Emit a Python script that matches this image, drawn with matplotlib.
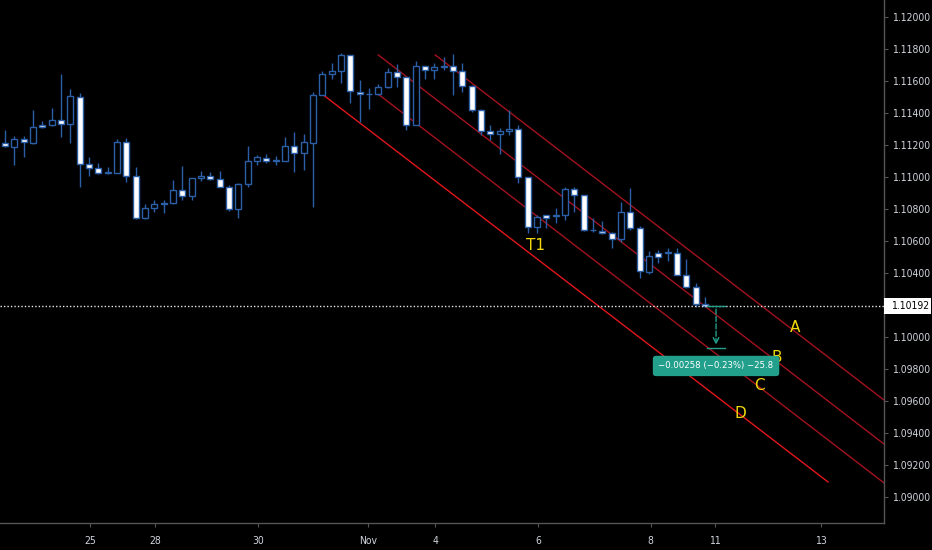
import matplotlib
matplotlib.use('Agg')
import matplotlib.pyplot as plt
from matplotlib import font_manager
from matplotlib.patches import Rectangle
import numpy as np

# ---- data (EURUSD 4h) ----
opens = [1.11214, 1.11189, 1.11235, 1.11210, 1.11327, 1.11323, 1.11356, 1.11331, 1.11502, 1.11079,
         1.11054, 1.11023, 1.11027, 1.11217, 1.11006, 1.10745, 1.10804, 1.10831, 1.10835, 1.10919,
         1.10881, 1.10992, 1.11006, 1.10985, 1.10939, 1.10798, 1.10954, 1.11102, 1.11120, 1.11102,
         1.11100, 1.11195, 1.11148, 1.11215, 1.11512, 1.11642, 1.11664, 1.11762, 1.11533, 1.11519,
         1.11519, 1.11560, 1.11654, 1.11623, 1.11325, 1.11694, 1.11669, 1.11689, 1.11694, 1.11664,
         1.11570, 1.11419, 1.11289, 1.11266, 1.11289, 1.11300, 1.10998, 1.10685, 1.10760, 1.10756,
         1.10760, 1.10923, 1.10887, 1.10669, 1.10664, 1.10648, 1.10612, 1.10779, 1.10679, 1.10408,
         1.10523, 1.10523, 1.10527, 1.10387, 1.10310, 1.10206]
highs = [1.11294, 1.11256, 1.11256, 1.11419, 1.11350, 1.11429, 1.11642, 1.11548, 1.11527, 1.11123,
         1.11085, 1.11060, 1.11235, 1.11242, 1.11060, 1.10831, 1.10856, 1.10856, 1.10981, 1.11070,
         1.10994, 1.11039, 1.11029, 1.11035, 1.10950, 1.10964, 1.11194, 1.11137, 1.11144, 1.11131,
         1.11248, 1.11283, 1.11269, 1.11533, 1.11664, 1.11714, 1.11773, 1.11765, 1.11606, 1.11554,
         1.11579, 1.11679, 1.11706, 1.11625, 1.11727, 1.11696, 1.11710, 1.11752, 1.11769, 1.11714,
         1.11572, 1.11423, 1.11325, 1.11306, 1.11419, 1.11325, 1.11000, 1.10762, 1.10762, 1.10804,
         1.10939, 1.10936, 1.10890, 1.10742, 1.10727, 1.10658, 1.10845, 1.10929, 1.10695, 1.10539,
         1.10544, 1.10554, 1.10554, 1.10485, 1.10335, 1.10252]
lows = [1.11187, 1.11075, 1.11127, 1.11204, 1.11304, 1.11320, 1.11252, 1.11214, 1.10939, 1.11006,
        1.11020, 1.11020, 1.11024, 1.10970, 1.10740, 1.10737, 1.10779, 1.10773, 1.10830, 1.10856,
        1.10856, 1.10975, 1.10981, 1.10936, 1.10789, 1.10742, 1.10936, 1.11075, 1.11085, 1.11075,
        1.11097, 1.11033, 1.11044, 1.10810, 1.11510, 1.11612, 1.11589, 1.11460, 1.11345, 1.11423,
        1.11512, 1.11558, 1.11564, 1.11294, 1.11322, 1.11610, 1.11612, 1.11669, 1.11512, 1.11533,
        1.11406, 1.11262, 1.11234, 1.11144, 1.11262, 1.10960, 1.10648, 1.10648, 1.10679, 1.10710,
        1.10731, 1.10783, 1.10664, 1.10658, 1.10642, 1.10554, 1.10595, 1.10669, 1.10367, 1.10394,
        1.10464, 1.10477, 1.10385, 1.10304, 1.10189, 1.10189]
closes = [1.11194, 1.11235, 1.11217, 1.11314, 1.11310, 1.11356, 1.11331, 1.11506, 1.11079, 1.11054,
          1.11023, 1.11031, 1.11217, 1.11006, 1.10745, 1.10804, 1.10831, 1.10839, 1.10919, 1.10881,
          1.10992, 1.11006, 1.10985, 1.10939, 1.10798, 1.10956, 1.11102, 1.11123, 1.11102, 1.11106,
          1.11195, 1.11152, 1.11217, 1.11512, 1.11642, 1.11664, 1.11762, 1.11537, 1.11519, 1.11521,
          1.11560, 1.11658, 1.11623, 1.11325, 1.11694, 1.11669, 1.11689, 1.11694, 1.11664, 1.11570,
          1.11419, 1.11289, 1.11266, 1.11289, 1.11300, 1.10998, 1.10685, 1.10748, 1.10743, 1.10764,
          1.10923, 1.10887, 1.10669, 1.10666, 1.10648, 1.10614, 1.10779, 1.10679, 1.10414, 1.10506,
          1.10502, 1.10529, 1.10387, 1.10310, 1.10206, 1.10192]

date_ticks = [9.1, 16.1, 27.1, 38.9, 46.1, 57.1, 69.2, 76.1, 87.4]
date_labels = ['25', '28', '30', 'Nov', '4', '6', '8', '11', '13']
price_ticks = [1.090, 1.092, 1.094, 1.096, 1.098, 1.100, 1.104, 1.106, 1.108,
               1.110, 1.112, 1.114, 1.116, 1.118, 1.120]

# parallel channel lines: (x0, p0, x1, p1)
chan_A = [46.1, 1.11763, 94.2, 1.09606]
chan_B = [40.0, 1.11763, 94.2, 1.09331]
chan_C = [40.1, 1.11513, 94.2, 1.09088]
chan_D = [34.1, 1.11513, 88.2, 1.09094]

last_price = 1.10192
move = -0.00258
move_text = '\u22120.00258 (\u22120.23%) \u221225.8'

labels = ['A', 'B', 'C', 'D', 'T1']
label_x = [84.7, 82.7, 80.8, 78.8, 56.9]
label_p = [1.10062, 1.09875, 1.09700, 1.09525, 1.10575]

##########################################
bg = '#000000'
edge = '#2b5fa8'
txt = '#d1d4dc'
teal = '#22a08c'
yellow = '#f2d90c'

# narrow font for the axis numbers if one is there
names = set(f.name for f in font_manager.fontManager.ttflist)
if 'Liberation Sans Narrow' in names:
    tick_font = dict(family='Liberation Sans Narrow')
else:
    tick_font = dict(family='DejaVu Sans', stretch='condensed')

fig = plt.figure(figsize=(9.32, 5.5), dpi=100, facecolor=bg)
ax = fig.add_axes([0, 27/550, 884/932, 523/550], facecolor=bg)

o = np.array(opens); h = np.array(highs); l = np.array(lows); c = np.array(closes)
x = np.arange(len(o))
down = c < o

ax.vlines(x, l, h, color=edge, lw=1, zorder=2)
ax.bar(x, np.abs(c - o), bottom=np.minimum(o, c), width=0.64,
       color=np.where(down, '#ffffff', bg), edgecolor=edge, linewidth=1, zorder=3)

for ln, col in [(chan_A, '#a3121f'), (chan_B, '#a3121f'), (chan_C, '#a3121f'), (chan_D, '#e3161b')]:
    ax.plot([ln[0], ln[2]], [ln[1], ln[3]], color=col, lw=1, zorder=1)

# current price
ax.axhline(last_price, color='#e8e8e8', lw=1, ls=(0, (1, 1.5)), zorder=4)

# measurement tool
mx = 76.2
ax.plot([75.2, 77.2], [last_price, last_price], color=teal, lw=1, zorder=4)
ax.plot([75.2, 77.2], [last_price + move, last_price + move], color=teal, lw=1, zorder=4)
ax.annotate('', xy=(mx, last_price + move), xytext=(mx, last_price),
            arrowprops=dict(arrowstyle='->', color=teal, lw=1, ls='--'), zorder=4)
ax.text(mx, 1.09819, move_text, color='white', fontsize=6.8, ha='center', va='center', zorder=6,
        bbox=dict(boxstyle='round,pad=0.6,rounding_size=0.35', fc=teal, ec='none'), **tick_font)

for s, lx, lp in zip(labels, label_x, label_p):
    ax.text(lx, lp, s, color=yellow, fontsize=11, ha='center', va='center', zorder=5)

ax.set_xlim(-0.54, 94.2)
ax.set_ylim(1.088375, 1.1210625)

ax.yaxis.tick_right()
ax.set_yticks(price_ticks)
ax.set_yticklabels(['%.5f' % p for p in price_ticks], **tick_font)
ax.set_xticks(date_ticks)
ax.set_xticklabels(date_labels, **tick_font)
ax.tick_params(colors=txt, labelsize=7.5, length=3, width=0.8)
ax.tick_params(axis='x', colors='#555555', labelcolor=txt, pad=6)
ax.tick_params(axis='y', colors='#555555', labelcolor=txt, pad=3)

for sp in ['left', 'top']:
    ax.spines[sp].set_visible(False)
for sp in ['right', 'bottom']:
    ax.spines[sp].set_color('#555555')
    ax.spines[sp].set_linewidth(1)

# last price tag on the axis
ytr = ax.get_yaxis_transform()
ax.add_patch(Rectangle((1.0, last_price - 0.0005), 47/884, 0.001, transform=ytr,
                       fc='white', ec='none', clip_on=False, zorder=6))
ax.text(1.0 + 7/884, last_price, '%.5f' % last_price, transform=ytr,
        color='black', fontsize=7.5, ha='left', va='center', zorder=7, clip_on=False, **tick_font)

fig.savefig('out.png', dpi=100, facecolor=bg)
